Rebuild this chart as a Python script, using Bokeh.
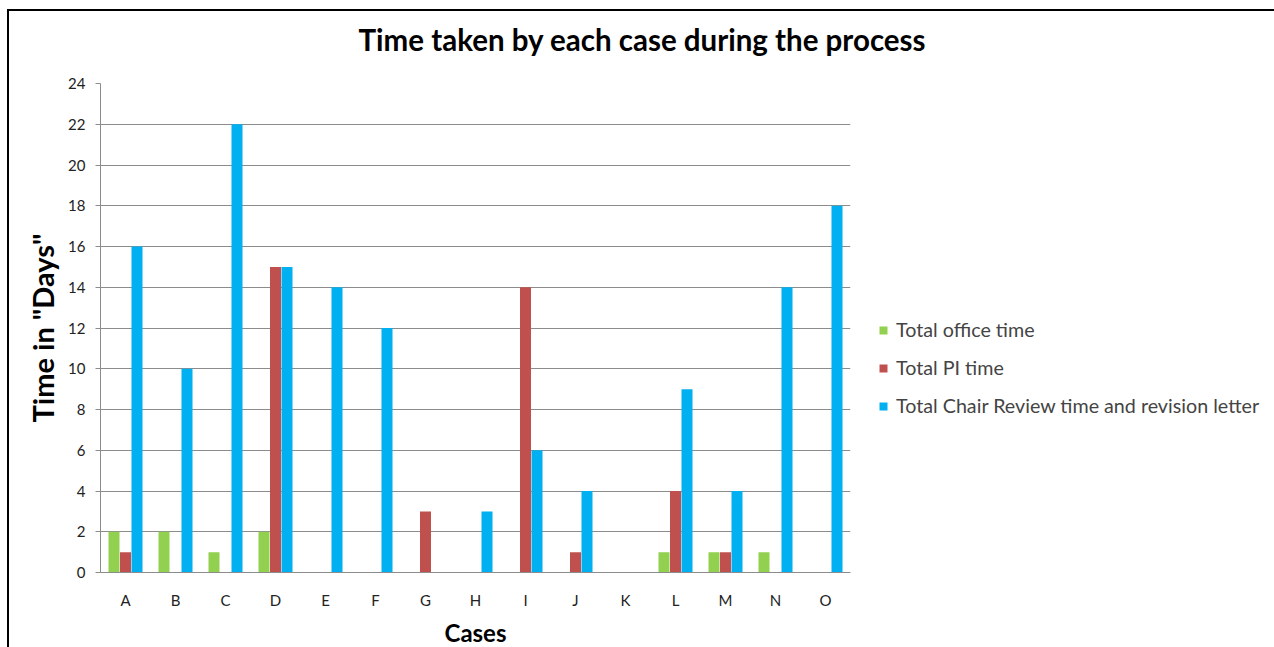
from bokeh.plotting import figure
from bokeh.models import Range1d, Legend, LegendItem, Title, ColumnDataSource
from bokeh.transform import dodge
from bokeh.embed import file_html
from bokeh.resources import INLINE

cases = ["A", "B", "C", "D", "E", "F", "G", "H", "I", "J", "K", "L", "M", "N", "O"]
office_time = [2, 2, 1, 2, 0, 0, 0, 0, 0, 0, 0, 1, 1, 1, 0]
pi_time = [1, 0, 0, 15, 0, 0, 3, 0, 14, 1, 0, 4, 1, 0, 0]
chair_time = [16, 10, 22, 15, 14, 12, 0, 3, 6, 4, 0, 9, 4, 14, 18]
series_names = ["Total office time", "Total PI time", "Total Chair Review time and revision letter"]
colors = ["#92D050", "#C0504D", "#00B0F0"]
y_ticks = list(range(0, 25, 2))

src = ColumnDataSource(dict(cases=cases, office=office_time, pi=pi_time, chair=chair_time))

FONT = "Lato"

p = figure(x_range=cases, y_range=Range1d(0, 24), frame_width=750, frame_height=489,
           output_backend="svg", toolbar_location=None,
           min_border_left=91, min_border_right=400, min_border_top=72, min_border_bottom=75)
p.margin = (9, 0, 0, 7)
p.styles = {"border-top": "2px solid black", "border-left": "2px solid black",
            "border-right": "2px solid black"}

w = 0.22
r1 = p.vbar(x=dodge("cases", -0.23, range=p.x_range), top="office", width=w, source=src,
            fill_color=colors[0], line_color=None)
r2 = p.vbar(x=dodge("cases", 0.0, range=p.x_range), top="pi", width=w, source=src,
            fill_color=colors[1], line_color=None)
r3 = p.vbar(x=dodge("cases", 0.23, range=p.x_range), top="chair", width=w, source=src,
            fill_color=colors[2], line_color=None)

p.outline_line_color = None
p.xgrid.grid_line_color = None
p.ygrid.grid_line_color = "#8C8C8C"
p.ygrid.grid_line_width = 1
p.yaxis.ticker = y_ticks
p.yaxis.axis_line_color = "#8C8C8C"
p.xaxis.axis_line_color = "#8C8C8C"
p.yaxis.major_tick_line_color = "#8C8C8C"
p.yaxis.major_tick_out = 5
p.yaxis.major_tick_in = 0
p.yaxis.minor_tick_line_color = None
p.xaxis.major_tick_line_color = None
p.xaxis.minor_tick_line_color = None
for ax in (p.xaxis, p.yaxis):
    ax.major_label_text_font = FONT
    ax.major_label_text_font_size = "15px"
    ax.major_label_text_color = "#222222"
    ax.axis_label_text_font = FONT
    ax.axis_label_text_font_style = "bold"
    ax.axis_label_text_color = "black"
p.yaxis.major_label_standoff = 10
p.xaxis.major_label_standoff = 12
p.yaxis.axis_label = 'Time in "Days"'
p.yaxis.axis_label_text_font_size = "29px"
p.yaxis.axis_label_standoff = 5
p.xaxis.axis_label = "Cases"
p.xaxis.axis_label_text_font_size = "24px"
p.xaxis.axis_label_standoff = 6

legend = Legend(items=[LegendItem(label=series_names[0], renderers=[r1]),
                       LegendItem(label=series_names[1], renderers=[r2]),
                       LegendItem(label=series_names[2], renderers=[r3])],
                location=(28, 155), orientation="vertical",
                label_text_font=FONT, label_text_font_size="19.7px",
                glyph_width=10, glyph_height=10, spacing=15, label_standoff=8,
                margin=0, padding=0,
                border_line_color=None, background_fill_alpha=0)
p.add_layout(legend, "right")

p.title.text = ""
p.title.standoff = 0
p.title.text_font_size = "1px"
spacer = Title(text=" ", text_font=FONT, text_font_size="21px", standoff=0)
p.add_layout(spacer, "above")
main_title = Title(text="Time taken by each case during the process", align="left", offset=258,
                   text_font=FONT, text_font_style="bold", text_font_size="29.5px",
                   text_color="black", standoff=0)
p.add_layout(main_title, "above")

open("out.html", "w").write(file_html(p, INLINE))
